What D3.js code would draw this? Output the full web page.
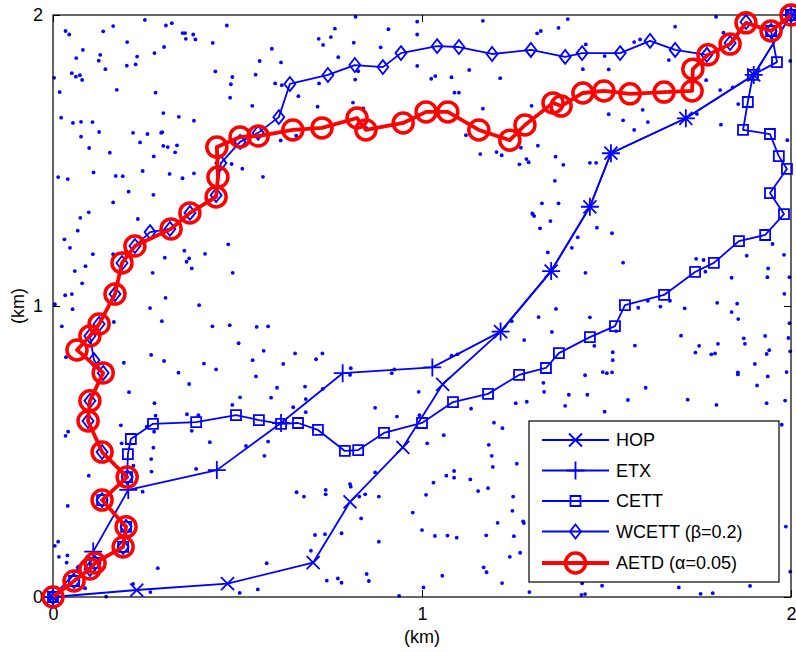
<!DOCTYPE html>
<html>
<head>
<meta charset="utf-8">
<script src="https://cdn.jsdelivr.net/npm/d3@7"></script>
<style>
  html, body { margin: 0; padding: 0; background: #fff; }
  svg { display: block; font-family: "Liberation Sans", Arial, Helvetica, sans-serif; }
</style>
</head>
<body>
<svg id="chart" width="796" height="652"></svg>
<script>
// Axis ticks (km)
const xTicks = [0, 1, 2];
const yTicks = [0, 1, 2];

// Legend labels, in drawing order
const seriesNames = ["HOP", "ETX", "CETT", "WCETT (\u03b2=0.2)", "AETD (\u03b1=0.05)"];

// Mesh node positions (km)
const nodes = [
  [0.249,1.983],[0.163,1.962],[0.306,1.964],[0.322,1.972],[0.471,1.964],[0.034,1.945],[0.044,1.933],[0.136,1.944],
  [0.351,1.938],[0.358,1.938],[0.380,1.933],[0.360,1.918],[0.386,1.916],[0.201,1.907],[0.433,1.904],[0.301,1.890],
  [0.081,1.880],[0.275,1.869],[0.128,1.863],[0.063,1.852],[0.228,1.857],[0.124,1.843],[0.560,1.842],[0.200,1.826],
  [0.224,1.830],[0.142,1.814],[0.440,1.806],[0.051,1.800],[0.062,1.788],[0.073,1.793],[0.079,1.777],[0.003,1.784],
  [0.549,1.795],[0.486,1.787],[0.482,1.762],[0.018,1.735],[0.173,1.743],[0.278,1.733],[0.480,1.716],[0.540,1.688],
  [0.299,1.663],[0.022,1.647],[0.341,1.650],[0.054,1.629],[0.076,1.633],[0.107,1.632],[0.382,1.637],[0.125,1.598],
  [0.217,1.595],[0.256,1.591],[0.293,1.595],[0.296,1.597],[0.076,1.582],[0.236,1.562],[0.299,1.550],[0.311,1.546],
  [0.336,1.552],[0.098,1.543],[0.331,1.528],[0.154,1.527],[0.273,1.514],[0.484,1.488],[0.513,1.472],[0.110,1.459],
  [0.243,1.464],[0.316,1.454],[0.382,1.456],[0.014,1.443],[0.040,1.436],[0.170,1.447],[0.189,1.446],[0.351,1.439],
  [0.569,1.444],[0.205,1.393],[0.272,1.382],[0.163,1.356],[0.097,1.322],[0.074,1.303],[0.230,1.299],
  [0.067,1.259],[0.031,1.229],[0.046,1.200],[0.108,1.178],[0.163,1.178],[0.356,1.190],[0.412,1.179],[0.475,1.212],
  [0.303,1.166],[0.362,1.152],[0.369,1.164],[0.376,1.129],[0.088,1.137],[0.059,1.120],[0.270,1.114],[0.487,1.114],
  [0.079,1.078],[0.033,1.037],[0.051,1.041],[0.305,1.028],[0.005,1.006],[0.053,0.989],[0.263,0.993],[0.396,1.003],
  [0.295,0.948],[0.165,0.945],[0.024,0.930],[0.432,0.930],[0.479,0.934],[0.552,0.928],[0.583,0.930],[0.503,0.872],
  [0.571,0.846],[0.035,0.824],[0.266,0.832],[0.301,0.811],[0.192,0.805],[0.409,0.802],[0.442,0.782],[0.541,0.814],
  [0.340,0.771],[0.550,0.758],[0.369,0.732],[0.206,0.704],[0.507,0.686],[0.275,0.666],[0.486,0.660],[0.278,0.623],
  [0.363,0.628],[0.394,0.625],[0.184,0.590],[0.254,0.585],
  [0.034,0.554],[0.041,0.568],[0.274,0.568],[0.376,0.571],[0.425,0.532],[0.523,0.519],[0.573,0.485],[0.583,0.534],
  [0.272,0.513],[0.266,0.474],[0.267,0.431],[0.218,0.451],[0.097,0.417],[0.388,0.440],[0.243,0.362],[0.040,0.313],
  [0.014,0.190],[0.005,0.176],[0.016,0.138],[0.039,0.143],[0.037,0.118],[0.067,0.101],[0.070,0.105],[0.284,0.099],
  [0.087,0.030],[0.217,0.045],[0.264,0.017],[0.144,0.001],[0.506,0.014],[0.555,0.026],[0.579,0.116],[0.186,0.528],
  [0.593,1.884],[0.618,1.837],[0.820,1.994],[0.764,1.953],[0.720,1.918],[0.732,1.897],[0.753,1.924],[0.909,1.951],
  [0.987,1.977],[0.987,1.933],[0.815,1.905],[0.888,1.889],[0.773,1.855],[0.602,1.765],[0.620,1.759],[0.721,1.765],
  [0.819,1.778],[0.827,1.807],[0.665,1.721],[0.717,1.685],[0.813,1.699],[0.841,1.679],[0.987,1.825],[1.025,1.781],
  [1.036,1.790],[1.080,1.786],[1.088,1.733],[1.100,1.733],[1.128,1.811],[1.212,1.783],[1.165,1.678],[1.165,1.980],
  [0.659,1.585],[0.617,1.569],[1.119,1.587],[1.158,1.522],[1.202,1.529],[1.216,1.518],[1.264,1.487],[1.268,1.544],
  [1.283,1.505],[1.289,1.494],[0.848,1.613],
  [1.395,1.986],[1.312,1.937],[1.322,1.945],[1.370,1.956],[1.686,1.960],[1.797,1.994],[1.444,1.899],[1.575,1.907],
  [1.591,1.916],[1.495,1.859],[1.669,1.845],[1.436,1.814],[1.506,1.813],[1.998,1.842],[1.770,1.776],[1.808,1.742],
  [1.842,1.751],[1.297,1.688],[1.598,1.674],[1.506,1.659],[1.545,1.638],[1.612,1.632],[1.575,1.605],[1.810,1.623],
  [1.745,1.660],[1.314,1.551],[1.362,1.513],[1.383,1.485],[1.455,1.492],[1.472,1.492],[1.360,1.430],[1.325,1.353],
  [1.370,1.353],[1.299,1.318],[1.990,1.570],[1.817,1.939],[1.857,1.694],
  [0.656,0.837],[0.730,0.837],[0.624,0.801],[0.713,0.817],[0.607,0.719],[0.683,0.723],[0.731,0.715],[0.591,0.685],
  [0.685,0.680],[0.651,0.652],[0.685,0.635],[0.807,0.786],[0.805,0.763],[0.925,0.782],[0.918,0.769],[1.080,0.829],
  [1.096,0.834],[1.243,0.948],[1.277,0.883],[0.991,0.705],[0.873,0.650],[0.932,0.620],[0.993,0.625],[1.133,0.647],
  [1.195,0.599],[1.218,0.580],[1.254,0.666],[1.284,0.671],
  [1.300,1.316],[1.304,1.309],[1.348,1.292],[1.320,1.267],[1.474,1.269],[1.515,1.250],[1.422,1.236],[1.406,1.200],
  [1.341,1.184],[1.545,1.149],[1.443,1.114],[1.363,0.990],[1.316,0.962],[1.455,0.961],[1.352,0.911],[1.526,0.914],
  [1.577,0.864],[1.467,0.863],[1.517,0.841],[1.517,0.814],[1.490,0.773],[1.501,0.769],[1.515,0.772],[1.442,0.762],
  [1.329,0.736],[1.331,0.705],[1.398,0.695],[1.448,0.695],[1.388,0.657],[1.495,0.637],[1.558,0.677],[1.606,0.719],
  [1.720,0.678],[1.798,0.660],[1.586,0.994],[1.612,1.018],[1.646,0.998],[1.672,1.018],[1.712,0.992],[1.743,1.162],
  [1.763,1.158],[1.768,1.118],[1.839,1.097],[1.880,1.173],[1.950,1.213],[1.981,1.176],[1.996,1.099],[1.938,1.129],
  [1.936,1.099],[1.982,1.042],[1.800,1.011],[1.854,1.008],[1.839,0.979],[1.857,0.955],[1.996,0.941],[1.702,0.898],
  [1.751,0.863],[1.741,0.840],[1.784,0.834],[1.794,0.837],[1.802,0.870],[1.872,0.889],[1.875,0.870],[1.930,0.897],
  [1.993,0.890],[1.934,0.835],[1.941,0.848],[1.998,0.844],[1.902,0.801],[1.856,0.772],[1.856,0.765],[1.988,0.773],
  [1.937,0.758],[1.908,0.727],[1.984,0.675],[1.934,0.666],[1.975,0.592],
  [0.660,0.360],[0.680,0.345],[0.739,0.368],[0.739,0.353],[0.805,0.388],[0.807,0.379],[0.846,0.353],[0.830,0.345],
  [0.883,0.345],[0.873,0.428],[0.835,0.270],[0.782,0.219],[0.737,0.216],[0.710,0.213],[0.883,0.190],[0.699,0.159],
  [0.742,0.056],[0.772,0.064],[0.782,0.049],[0.850,0.079],[0.856,0.055],[0.938,0.004],[1.004,0.033],[1.055,0.073],
  [1.000,0.230],[0.975,0.290],[1.035,0.210],[1.069,0.211],[1.094,0.204],[1.011,0.351],[1.031,0.393],[1.066,0.417],
  [1.087,0.433],[1.087,0.410],[1.131,0.404],[1.152,0.364],[1.179,0.374],[1.014,0.528],[1.059,0.556],[1.181,0.523],
  [1.189,0.485],[1.192,0.447],[1.257,0.458],[1.247,0.345],[1.245,0.296],[1.205,0.255],[1.274,0.260],[1.276,0.254],
  [1.174,0.212],[1.249,0.209],[1.238,0.138],[1.266,0.152],[1.167,0.102],[1.175,0.085],[1.217,0.048],[1.291,0.017],
  [1.986,0.242],[1.998,0.087],[1.434,0.047],[1.488,0.039],[1.432,0.007],[1.442,0.010],[1.696,0.033],[1.755,0.011],
  [1.788,0.013],[1.889,0.038]
];

// Route found by each metric (km)
const hopPath = [
  [0,0],[0.227,0.024],[0.473,0.046],[0.705,0.118],[0.805,0.327],[0.948,0.514],[1.056,0.731],
  [1.213,0.912],[1.350,1.120],[1.455,1.341],[1.512,1.525],[1.715,1.645],[1.899,1.794],[2,2]
];
const etxPath = [
  [0,0],[0.109,0.156],[0.204,0.368],[0.444,0.436],[0.618,0.598],[0.785,0.769],[1.028,0.789],
  [1.213,0.912],[1.350,1.120],[1.455,1.341],[1.512,1.525],[1.715,1.645],[1.899,1.794],[2,2]
];
const cettPath = [
  [0,0],[0.057,0.055],[0.114,0.117],[0.190,0.172],[0.198,0.241],[0.133,0.333],[0.201,0.412],[0.203,0.491],
  [0.211,0.543],[0.271,0.595],[0.388,0.601],[0.496,0.625],[0.558,0.608],[0.618,0.595],[0.664,0.598],[0.718,0.574],
  [0.791,0.502],[0.827,0.505],[0.897,0.564],[1.000,0.598],[1.084,0.670],[1.179,0.698],[1.263,0.763],[1.336,0.787],
  [1.371,0.838],[1.455,0.893],[1.523,0.931],[1.550,1.003],[1.656,1.038],[1.740,1.117],[1.791,1.148],[1.859,1.223],
  [1.930,1.244],[1.981,1.316],[1.943,1.388],[1.989,1.471],[1.967,1.515],[1.943,1.591],[1.870,1.605],[1.883,1.701],
  [1.897,1.794],[1.962,1.838],[1.946,1.945],[2,2]
];
const wcettPath = [
  [0,0],[0.057,0.055],[0.100,0.096],[0.114,0.117],[0.190,0.172],[0.198,0.241],[0.133,0.333],[0.201,0.412],
  [0.133,0.498],[0.095,0.605],[0.100,0.674],[0.136,0.770],[0.111,0.814],[0.100,0.897],[0.125,0.938],[0.168,1.041],
  [0.187,1.148],[0.222,1.206],[0.263,1.254],[0.317,1.265],[0.371,1.320],[0.442,1.381],[0.455,1.491],[0.507,1.564],
  [0.556,1.595],[0.612,1.649],[0.642,1.763],[0.745,1.794],[0.818,1.828],[0.894,1.821],[0.943,1.869],[1.041,1.893],
  [1.100,1.890],[1.190,1.866],[1.295,1.880],[1.388,1.856],[1.434,1.869],[1.537,1.869],[1.618,1.911],[1.686,1.880],
  [1.772,1.863],[1.835,1.904],[1.878,1.976],[1.946,1.945],[2,2]
];
const aetdPath = [
  [0,0],[0.057,0.055],[0.100,0.096],[0.114,0.117],[0.190,0.172],[0.198,0.241],[0.133,0.333],[0.201,0.412],
  [0.133,0.498],[0.095,0.605],[0.100,0.674],[0.136,0.770],[0.065,0.849],[0.100,0.897],[0.125,0.938],[0.168,1.041],
  [0.187,1.148],[0.222,1.206],[0.320,1.265],[0.371,1.320],[0.442,1.375],[0.447,1.443],[0.444,1.546],[0.507,1.581],
  [0.556,1.584],[0.650,1.605],[0.729,1.612],[0.824,1.646],[0.848,1.605],[0.949,1.629],[1.011,1.667],[1.070,1.667],
  [1.154,1.605],[1.238,1.570],[1.279,1.622],[1.355,1.698],[1.377,1.687],[1.436,1.732],[1.493,1.739],[1.564,1.729],
  [1.656,1.735],[1.732,1.739],[1.734,1.814],[1.775,1.863],[1.835,1.900],[1.878,1.973],[1.946,1.945],[2,2]
];

const BLUE = "#0000ff";
const RED = "#ff0000";

const svg = d3.select("#chart");
const margin = { left: 53, top: 15, right: 5, bottom: 55 };
const W = 796, H = 652;
const plotW = W - margin.left - margin.right;   // 738
const plotH = H - margin.top - margin.bottom;   // 582

const x = d3.scaleLinear().domain([0, 2]).range([margin.left, margin.left + plotW]);
const y = d3.scaleLinear().domain([0, 2]).range([margin.top + plotH, margin.top]);

// Marker shapes, centred on the point
const markerPaths = {
  x: "M-6.5,-6.5L6.5,6.5M-6.5,6.5L6.5,-6.5",
  plus: "M-9,0H9M0,-9V9",
  square: "M-5,-5H5V5H-5Z",
  diamond: "M0,-7L5.5,0L0,7L-5.5,0Z"
};

const series = [
  { name: seriesNames[0], data: hopPath,   color: BLUE, width: 1.8, marker: "x" },
  { name: seriesNames[1], data: etxPath,   color: BLUE, width: 1.8, marker: "plus" },
  { name: seriesNames[2], data: cettPath,  color: BLUE, width: 1.8, marker: "square" },
  { name: seriesNames[3], data: wcettPath, color: BLUE, width: 1.8, marker: "diamond" },
  { name: seriesNames[4], data: aetdPath,  color: RED,  width: 3.8, marker: "circle" }
];

// Mesh nodes
svg.append("g").selectAll("circle").data(nodes).join("circle")
  .attr("cx", d => x(d[0])).attr("cy", d => y(d[1]))
  .attr("r", 1.9).attr("fill", BLUE);

// Axes box with inward ticks on all four sides
const tickLen = 7;
const axisG = svg.append("g");
axisG.append("rect")
  .attr("x", x(0)).attr("y", y(2))
  .attr("width", x(2) - x(0)).attr("height", y(0) - y(2))
  .attr("fill", "none").attr("stroke", "#000").attr("stroke-width", 1.2);

const bottomAxis = d3.axisBottom(x).tickValues(xTicks).tickSize(-tickLen).tickPadding(10).tickFormat(d3.format("d"));
const topAxis = d3.axisTop(x).tickValues(xTicks).tickSize(-tickLen).tickFormat("");
const leftAxis = d3.axisLeft(y).tickValues(yTicks).tickSize(-tickLen).tickPadding(10).tickFormat(d3.format("d"));
const rightAxis = d3.axisRight(y).tickValues(yTicks).tickSize(-tickLen).tickFormat("");

function styleAxis(g) {
  g.select(".domain").remove();
  g.selectAll(".tick line").attr("stroke", "#000").attr("stroke-width", 1);
  g.selectAll(".tick text").attr("fill", "#000").style("font-size", "18px")
    .style("font-family", "'Liberation Sans', Arial, sans-serif");
}
axisG.append("g").attr("transform", `translate(0,${y(0)})`).call(bottomAxis).call(styleAxis);
axisG.append("g").attr("transform", `translate(0,${y(2)})`).call(topAxis).call(styleAxis);
axisG.append("g").attr("transform", `translate(${x(0)},0)`).call(leftAxis).call(styleAxis);
axisG.append("g").attr("transform", `translate(${x(2)},0)`).call(rightAxis).call(styleAxis);

// Axis titles
svg.append("text")
  .attr("x", (x(0) + x(2)) / 2).attr("y", 643)
  .attr("text-anchor", "middle").style("font-size", "18px").text("(km)");
svg.append("text")
  .attr("transform", `translate(18,${(y(0) + y(2)) / 2}) rotate(-90)`)
  .attr("text-anchor", "middle").attr("dominant-baseline", "central")
  .style("font-size", "18px").text("(km)");

// Routes
const line = d3.line().x(d => x(d[0])).y(d => y(d[1]));

function drawMarker(sel, s) {
  if (s.marker === "circle") {
    sel.append("circle").attr("r", 10)
      .attr("fill", "none").attr("stroke", s.color).attr("stroke-width", 3.5);
  } else {
    sel.append("path").attr("d", markerPaths[s.marker])
      .attr("fill", "none").attr("stroke", s.color).attr("stroke-width", 1.8);
  }
}

series.forEach(s => {
  const g = svg.append("g");
  g.append("path").datum(s.data).attr("d", line)
    .attr("fill", "none").attr("stroke", s.color)
    .attr("stroke-width", s.width).attr("stroke-linejoin", "round");
  g.selectAll("g.m").data(s.data).join("g").attr("class", "m")
    .attr("transform", d => `translate(${x(d[0])},${y(d[1])})`)
    .each(function () { drawMarker(d3.select(this), s); });
});

// Legend
const legend = svg.append("g");
const lgX = 529, lgY = 421, lgW = 250, lgH = 161;
legend.append("rect").attr("x", lgX).attr("y", lgY).attr("width", lgW).attr("height", lgH)
  .attr("fill", "#fff").attr("stroke", "#000").attr("stroke-width", 1.2);
const rowY = [440, 470.5, 501, 531.5, 563];
series.forEach((s, i) => {
  const g = legend.append("g").attr("transform", `translate(0,${rowY[i]})`);
  g.append("line").attr("x1", 542).attr("x2", 609).attr("y1", 0).attr("y2", 0)
    .attr("stroke", s.color).attr("stroke-width", s.width);
  const m = g.append("g").attr("transform", "translate(575.5,0)");
  drawMarker(m, s);
  g.append("text").attr("x", 616).attr("y", 0).attr("dominant-baseline", "central")
    .style("font-size", "18px").text(s.name);
});
</script>
</body>
</html>
